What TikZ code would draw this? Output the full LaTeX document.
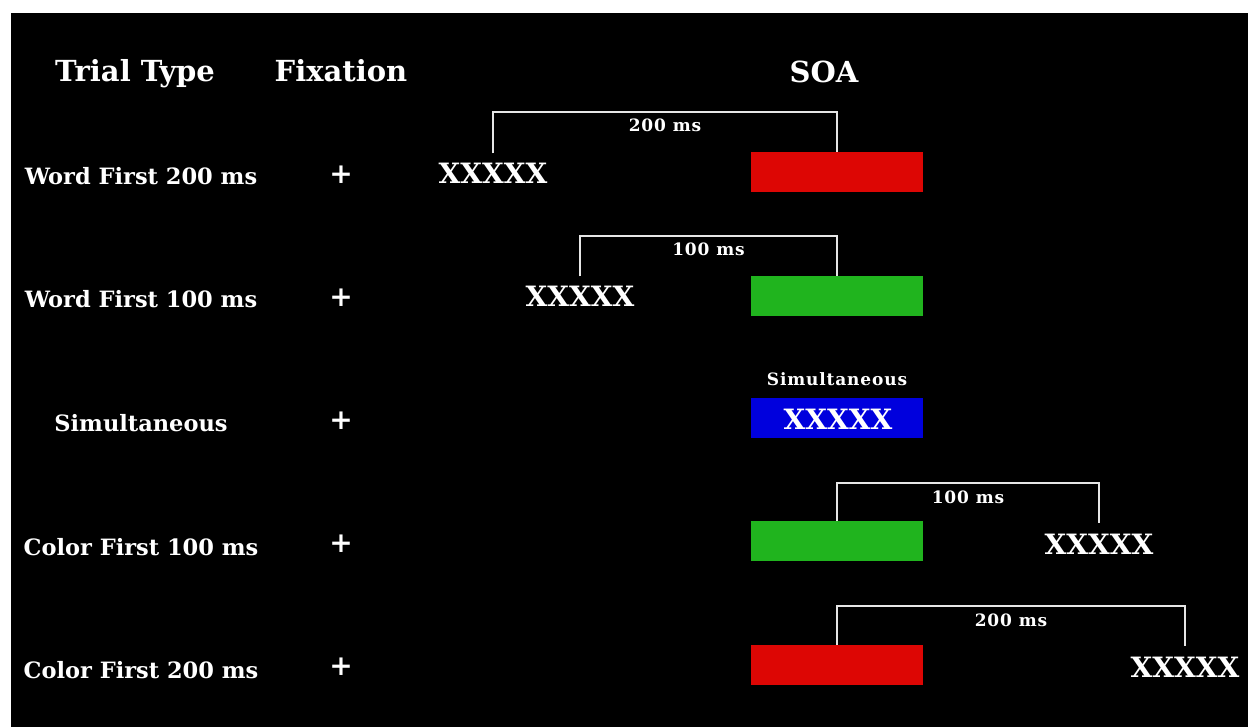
\documentclass[tikz,border=0pt]{standalone}
\usepackage{fontspec}
\setmainfont{DejaVu Serif}
\usetikzlibrary{calc,positioning}
\definecolor{cred}{HTML}{DD0604}
\definecolor{cgreen}{HTML}{20B41E}
\definecolor{cblue}{HTML}{0000DD}
\definecolor{cline}{HTML}{E6E6E6}
\tikzset{
  head/.style={text=white,font=\bfseries\fontsize{29}{32}\selectfont,anchor=base},
  rowlab/.style={text=white,font=\bfseries\fontsize{22.5}{26}\selectfont,anchor=base},
  plus/.style={text=white,font=\bfseries\fontsize{28}{30}\selectfont},
  xs/.style={text=white,font=\bfseries\fontsize{28}{32}\selectfont,inner sep=0pt,anchor=base},
  bar/.style={minimum width=172pt,minimum height=40pt,inner sep=0pt},
  small/.style={text=white,font=\bfseries\fontsize{17}{19}\selectfont\addfontfeature{LetterSpace=5}},
  bracket/.style={draw=cline,line width=1.8pt}
}
\begin{document}
\begin{tikzpicture}[x=1pt,y=-1pt]
\useasboundingbox (0,0) rectangle (1248,727);
\fill[white] (0,0) rectangle (1248,727);
\fill[black] (11,13) rectangle (1248,727);
% headers
\node[head] (hT) at (135,82) {Trial Type};
\node[head] (hF) at (341,82) {Fixation};
\node[head] (hS) at (824,83) {SOA};
% row labels
\node[rowlab] (l1) at (141,185) {Word First 200 ms};
\node[rowlab] (l2) at (141,308) {Word First 100 ms};
\node[rowlab] (l3) at (141,431) {Simultaneous};
\node[rowlab] (l4) at (141,555) {Color First 100 ms};
\node[rowlab] (l5) at (141,678) {Color First 200 ms};
% fixation crosses
\node[plus] (p1) at (341,175) {+};
\node[plus] (p2) at (341,298) {+};
\node[plus] (p3) at (341,421) {+};
\node[plus] (p4) at (341,544) {+};
\node[plus] (p5) at (341,667) {+};
% colour bars
\node[bar,fill=cred] (b1) at (837,172) {};
\node[bar,fill=cgreen] (b2) at (837,296) {};
\node[bar,fill=cblue] (b3) at (837,418) {};
\node[bar,fill=cgreen] (b4) at (837,541) {};
\node[bar,fill=cred] (b5) at (837,665) {};
% words
\node[xs] (x1) at (493,184) {XXXXX};
\node[xs] (x2) at (580,307) {XXXXX};
\node[xs] (x3) at (838,429) {XXXXX};
\node[xs] (x4) at (1099,554) {XXXXX};
\node[xs] (x5) at (1185,677) {XXXXX};
\coordinate (x1t) at ($(x1.north)+(0,-10)$);
\coordinate (x2t) at ($(x2.north)+(0,-10)$);
\coordinate (x4t) at ($(x4.north)+(0,-10)$);
\coordinate (x5t) at ($(x5.north)+(0,-10)$);
% simultaneous label
\node[small,above=9pt of b3] (s3) {Simultaneous};
% brackets
\draw[bracket] (x1t) |- ($(b1.north)+(0,-40)$) node[pos=0.75,below=3pt,small] (m1) {200 ms} -- (b1.north);
\draw[bracket] (x2t) |- ($(b2.north)+(0,-40)$) node[pos=0.75,below=3pt,small] (m2) {100 ms} -- (b2.north);
\draw[bracket] (b4.north) |- ($(x4t)+(0,-40)$) node[pos=0.75,below=3pt,small] (m4) {100 ms} -- (x4t);
\draw[bracket] (b5.north) |- ($(x5t)+(0,-40)$) node[pos=0.75,below=3pt,small] (m5) {200 ms} -- (x5t);
\end{tikzpicture}
\end{document}
